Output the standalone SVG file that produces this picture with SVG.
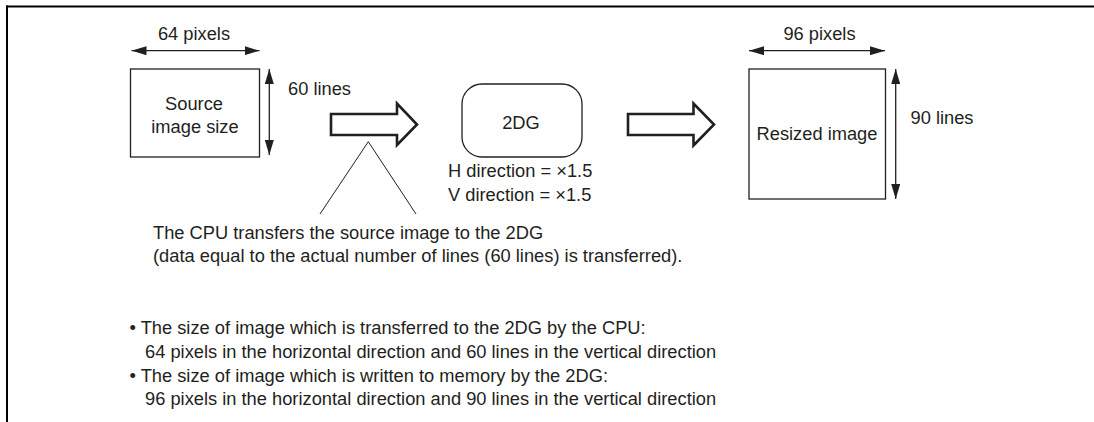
<svg xmlns="http://www.w3.org/2000/svg" width="1094" height="422" viewBox="0 0 1094 422">
  <style>
    text { font-family: "Liberation Sans", Arial, Helvetica, sans-serif; font-size: 18.3px; fill: #231f20; }
    .mid { text-anchor: middle; }
    .box { fill: #ffffff; stroke: #231f20; stroke-width: 1.3; }
    .dim { stroke: #231f20; stroke-width: 1.3; fill: none; marker-start: url(#ah); marker-end: url(#ah); }
    .hollow { fill: #ffffff; stroke: #231f20; stroke-width: 2.6; stroke-linejoin: miter; }
    .thin { fill: none; stroke: #231f20; stroke-width: 1; }
    .frame { stroke: #000000; stroke-width: 2; fill: none; }
  </style>
  <defs>
    <marker id="ah" viewBox="0 0 15 9" markerWidth="15" markerHeight="9" refX="15" refY="4.5" orient="auto-start-reverse" markerUnits="userSpaceOnUse">
      <path d="M0,0 L15,4.5 L0,9 z" fill="#231f20"/>
    </marker>
  </defs>
  <rect width="1094" height="422" fill="#ffffff"/>
  <g id="frame">
    <line class="frame" x1="6" y1="6.5" x2="1094" y2="6.5"/>
    <line class="frame" x1="7" y1="5.5" x2="7" y2="422"/>
  </g>
  <g id="source-image">
    <rect class="box" x="130.5" y="69" width="129" height="88"/>
    <text class="mid" x="194" y="109.5">Source</text>
    <text class="mid" x="195" y="133">image size</text>
    <text class="mid" x="194" y="40">64 pixels</text>
    <text x="288" y="94.5">60 lines</text>
  </g>
  <g id="engine-2dg">
    <rect class="box" x="462" y="84" width="120" height="73" rx="20" ry="20"/>
    <text class="mid" x="521" y="128.5">2DG</text>
    <text x="448" y="177">H direction = ×1.5</text>
    <text x="448" y="201">V direction = ×1.5</text>
  </g>
  <g id="resized-image">
    <rect class="box" x="749" y="69" width="136.5" height="130"/>
    <text class="mid" x="817" y="140">Resized image</text>
    <text class="mid" x="819.5" y="40">96 pixels</text>
    <text x="910.5" y="124">90 lines</text>
  </g>
  <g id="connectors">
    <line class="dim" x1="131.5" y1="50.7" x2="259.5" y2="50.7"/>
    <line class="dim" x1="269.3" y1="69" x2="269.3" y2="155"/>
    <line class="dim" x1="749" y1="50.7" x2="885" y2="50.7"/>
    <line class="dim" x1="895.7" y1="69" x2="895.7" y2="199"/>
    <polygon class="hollow" points="331,114 397,114 397,103.5 417,124.5 397,145 397,135 331,135"/>
    <polygon class="hollow" points="628,114 693.5,114 693.5,103.5 714,124.5 693.5,145.5 693.5,135 628,135"/>
    <polyline class="thin" points="320,214 368.3,141.7 416,214"/>
  </g>
  <g id="callout-text">
    <text x="153" y="238.5">The CPU transfers the source image to the 2DG</text>
    <text x="153" y="262">(data equal to the actual number of lines (60 lines) is transferred).</text>
  </g>
  <g id="notes">
    <text x="129.5" y="333.5">• The size of image which is transferred to the 2DG by the CPU:</text>
    <text x="145" y="357.5">64 pixels in the horizontal direction and 60 lines in the vertical direction</text>
    <text x="129.5" y="381.5">• The size of image which is written to memory by the 2DG:</text>
    <text x="145" y="405">96 pixels in the horizontal direction and 90 lines in the vertical direction</text>
  </g>
</svg>
